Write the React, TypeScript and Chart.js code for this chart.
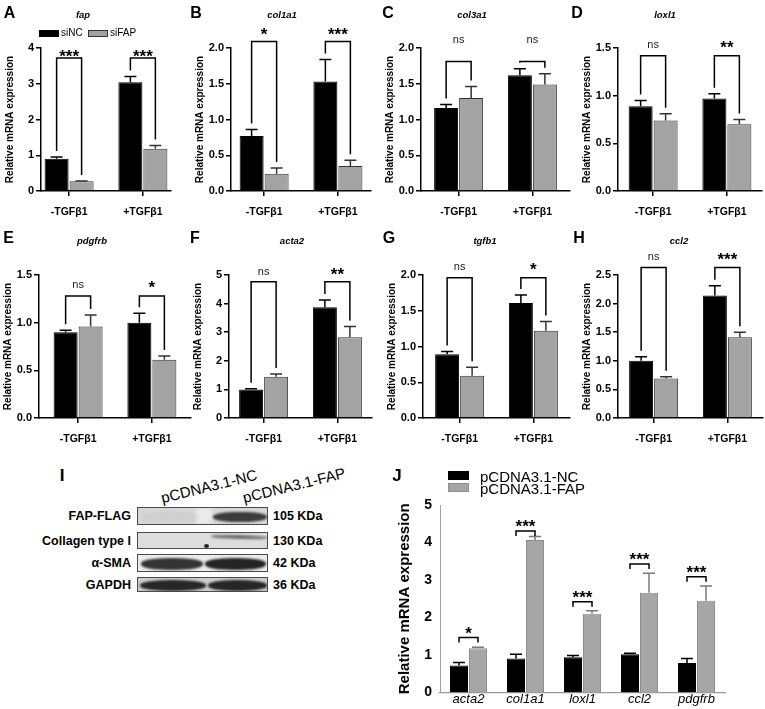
import React, { useEffect, useRef } from 'react';
import { Chart, registerables } from 'chart.js';
Chart.register(...registerables);

const FONT = "'Liberation Sans', Arial, Helvetica, sans-serif";
Chart.defaults.font.family = FONT;
Chart.defaults.color = '#000';

// ---------------- DATA ----------------
const groupLabels = ['-TGFβ1', '+TGFβ1'];
const seriesNames = ['siNC', 'siFAP'];

const fapNC = [0.9, 3.04];
const fapNCErr = [0.95, 3.2];
const fapSi = [0.27, 1.18];
const fapSiErr = [0.28, 1.27];
const fapBracket = [3.72, 3.72];
const fapSig = ['***', '***'];

const col1a1NC = [0.77, 1.53];
const col1a1NCErr = [0.86, 1.84];
const col1a1Si = [0.24, 0.35];
const col1a1SiErr = [0.32, 0.43];
const col1a1Bracket = [2.09, 2.09];
const col1a1Sig = ['*', '***'];

const col3a1NC = [1.16, 1.62];
const col3a1NCErr = [1.21, 1.71];
const col3a1Si = [1.3, 1.49];
const col3a1SiErr = [1.46, 1.64];
const col3a1Bracket = [1.81, 1.81];
const col3a1Sig = ['ns', 'ns'];

const loxl1NC = [0.89, 0.97];
const loxl1NCErr = [0.95, 1.02];
const loxl1Si = [0.74, 0.7];
const loxl1SiErr = [0.81, 0.75];
const loxl1Bracket = [1.42, 1.42];
const loxl1Sig = ['ns', '**'];

const pdgfrbNC = [0.9, 1.0];
const pdgfrbNCErr = [0.92, 1.1];
const pdgfrbSi = [0.96, 0.61];
const pdgfrbSiErr = [1.08, 0.65];
const pdgfrbBracket = [1.28, 1.28];
const pdgfrbSig = ['ns', '*'];

const acta2NC = [1.0, 3.87];
const acta2NCErr = [1.02, 4.13];
const acta2Si = [1.44, 2.82];
const acta2SiErr = [1.54, 3.2];
const acta2Bracket = [4.76, 4.76];
const acta2Sig = ['ns', '**'];

const tgfb1NC = [0.89, 1.61];
const tgfb1NCErr = [0.93, 1.72];
const tgfb1Si = [0.59, 1.22];
const tgfb1SiErr = [0.71, 1.35];
const tgfb1Bracket = [1.96, 1.96];
const tgfb1Sig = ['ns', '*'];

const ccl2NC = [1.0, 2.14];
const ccl2NCErr = [1.07, 2.31];
const ccl2Si = [0.69, 1.41];
const ccl2SiErr = [0.72, 1.5];
const ccl2Bracket = [2.63, 2.63];
const ccl2Sig = ['ns', '***'];

const yMaxes = [4, 2, 2, 1.5, 1.5, 5, 2, 2.5];
const ySteps = [1, 0.5, 0.5, 0.5, 0.5, 1, 0.5, 0.5];

// panel J
const jCats = ['acta2', 'col1a1', 'loxl1', 'ccl2', 'pdgfrb'];
const jSeries = ['pCDNA3.1-NC', 'pCDNA3.1-FAP'];
const jNC = [0.72, 0.91, 0.94, 1.02, 0.79];
const jNCErr = [0.8, 1.02, 0.99, 1.05, 0.91];
const jFAP = [1.18, 4.07, 2.1, 2.66, 2.45];
const jFAPErr = [1.21, 4.16, 2.18, 3.18, 2.84];
const jBracket = [1.47, 4.31, 2.42, 3.43, 3.09];
const jSig = ['*', '***', '***', '***', '***'];
const jYMax = 5;

// panel I (western blot)
const blotRows = ['FAP-FLAG', 'Collagen type I', 'α-SMA', 'GAPDH'];
const blotSizes = ['105 KDa', '130 KDa', '42 KDa', '36 KDa'];
const blotLanes = ['pCDNA3.1-NC', 'pCDNA3.1-FAP'];
const bandNC = [0.03, 0.0, 0.85, 0.9];
const bandFAP = [0.8, 0.55, 0.92, 0.9];

// ---------------- PANEL TABLE ----------------
const smallData = [
  { gene: 'fap', nc: fapNC, ncErr: fapNCErr, si: fapSi, siErr: fapSiErr, br: fapBracket, sig: fapSig },
  { gene: 'col1a1', nc: col1a1NC, ncErr: col1a1NCErr, si: col1a1Si, siErr: col1a1SiErr, br: col1a1Bracket, sig: col1a1Sig },
  { gene: 'col3a1', nc: col3a1NC, ncErr: col3a1NCErr, si: col3a1Si, siErr: col3a1SiErr, br: col3a1Bracket, sig: col3a1Sig },
  { gene: 'loxl1', nc: loxl1NC, ncErr: loxl1NCErr, si: loxl1Si, siErr: loxl1SiErr, br: loxl1Bracket, sig: loxl1Sig },
  { gene: 'pdgfrb', nc: pdgfrbNC, ncErr: pdgfrbNCErr, si: pdgfrbSi, siErr: pdgfrbSiErr, br: pdgfrbBracket, sig: pdgfrbSig },
  { gene: 'acta2', nc: acta2NC, ncErr: acta2NCErr, si: acta2Si, siErr: acta2SiErr, br: acta2Bracket, sig: acta2Sig },
  { gene: 'tgfb1', nc: tgfb1NC, ncErr: tgfb1NCErr, si: tgfb1Si, siErr: tgfb1SiErr, br: tgfb1Bracket, sig: tgfb1Sig },
  { gene: 'ccl2', nc: ccl2NC, ncErr: ccl2NCErr, si: ccl2Si, siErr: ccl2SiErr, br: ccl2Bracket, sig: ccl2Sig },
];

// layout (positions only)
const smallLayout = [
  { axisX: 41, canvasTop: 0, plotTop: 48, plotBottom: 191, offset: 28, lift: 5, letter: 'A', lx: 9.5, ly: 12.5, tx: 83, ty: 15 },
  { axisX: 231, canvasTop: 0, plotTop: 48, plotBottom: 191, offset: 33, lift: 10, letter: 'B', lx: 196, ly: 12.5, tx: 282, ty: 15 },
  { axisX: 421, canvasTop: 0, plotTop: 48, plotBottom: 191, offset: 37.5, lift: 22, letter: 'C', lx: 388, ly: 12.5, tx: 472, ty: 15 },
  { axisX: 618, canvasTop: 0, plotTop: 48, plotBottom: 191, offset: 35, lift: 11, letter: 'D', lx: 577, ly: 12.5, tx: 665, ty: 15 },
  { axisX: 39, canvasTop: 227, plotTop: 275, plotBottom: 418, offset: 39, lift: 11, letter: 'E', lx: 8.5, ly: 238, tx: 92, ty: 241 },
  { axisX: 229, canvasTop: 227, plotTop: 275, plotBottom: 418, offset: 34.5, lift: 10, letter: 'F', lx: 195, ly: 238, tx: 292, ty: 241 },
  { axisX: 423, canvasTop: 227, plotTop: 275, plotBottom: 418, offset: 36.5, lift: 11, letter: 'G', lx: 389, ly: 238, tx: 485, ty: 241 },
  { axisX: 618, canvasTop: 227, plotTop: 275, plotBottom: 418, offset: 35.5, lift: 11, letter: 'H', lx: 579, ly: 238, tx: 679, ty: 241 },
];

const SPACING = 73.5;
const Y_AXIS_W = 40;
const X_AXIS_H = 30;

function drawSigLabel(ctx: CanvasRenderingContext2D, text: string, cx: number, cy: number) {
  const isStar = text.indexOf('*') >= 0;
  ctx.save();
  ctx.fillStyle = isStar ? '#000' : '#222';
  ctx.font = isStar ? `bold 17px ${FONT}` : `11px ${FONT}`;
  ctx.textAlign = 'center';
  ctx.textBaseline = 'alphabetic';
  const m = ctx.measureText(text);
  const asc = m.actualBoundingBoxAscent || 0;
  const desc = m.actualBoundingBoxDescent || 0;
  ctx.fillText(text, cx, cy + (asc - desc) / 2);
  ctx.restore();
}

function annotPlugin(cfg: any) {
  return {
    id: 'annot',
    afterDatasetsDraw(chart: any) {
      const ctx = chart.ctx as CanvasRenderingContext2D;
      const ys = chart.scales.y;
      const tops: any[] = [];
      chart.data.datasets.forEach((ds: any, di: number) => {
        const meta = chart.getDatasetMeta(di);
        tops[di] = meta.data.map((el: any, i: number) => {
          const ey = ys.getPixelForValue(cfg.errs[di][i]);
          ctx.save();
          ctx.strokeStyle = cfg.errColors[di];
          ctx.lineWidth = cfg.errWidth;
          ctx.beginPath();
          ctx.moveTo(el.x, el.y);
          ctx.lineTo(el.x, ey);
          ctx.moveTo(el.x - cfg.capW / 2, ey);
          ctx.lineTo(el.x + cfg.capW / 2, ey);
          ctx.stroke();
          ctx.restore();
          return { x: el.x, ey };
        });
      });
      cfg.bracket.forEach((bv: number, i: number) => {
        const a = tops[0][i];
        const b = tops[1][i];
        const by = ys.getPixelForValue(bv);
        ctx.save();
        ctx.strokeStyle = '#000';
        ctx.lineWidth = 1.5;
        ctx.beginPath();
        if (cfg.style === 'up') {
          ctx.moveTo(a.x, a.ey - 6);
          ctx.lineTo(a.x, by);
          ctx.lineTo(b.x, by);
          ctx.lineTo(b.x, b.ey - 6);
        } else {
          ctx.moveTo(a.x, by + 5);
          ctx.lineTo(a.x, by);
          ctx.lineTo(b.x, by);
          ctx.lineTo(b.x, by + 5);
        }
        ctx.stroke();
        ctx.restore();
        drawSigLabel(ctx, cfg.sig[i], (a.x + b.x) / 2, by - cfg.lift);
      });
    },
  };
}

function makeSmall(canvas: HTMLCanvasElement, idx: number) {
  const d = smallData[idx];
  const L = smallLayout[idx];
  const lo = L.offset / SPACING;
  const plotW = Math.round(SPACING + 2 * L.offset);
  const spacing = plotW / (1 + 2 * lo);
  const catPct = 50 / spacing;
  const yMax = yMaxes[idx];
  const yStep = ySteps[idx];
  const intStep = Number.isInteger(yStep);
  return new Chart(canvas, {
    type: 'bar',
    data: {
      datasets: [
        {
          label: seriesNames[0],
          data: d.nc.map((v, i) => ({ x: i, y: v })),
          backgroundColor: '#000',
          borderColor: '#000',
          borderWidth: 1,
          categoryPercentage: catPct,
          barPercentage: 0.96,
        },
        {
          label: seriesNames[1],
          data: d.si.map((v, i) => ({ x: i, y: v })),
          backgroundColor: '#a3a3a3',
          borderColor: '#333',
          borderWidth: 1,
          categoryPercentage: catPct,
          barPercentage: 0.96,
        },
      ],
    } as any,
    options: {
      responsive: false,
      animation: false,
      events: [],
      layout: { padding: { top: L.plotTop - L.canvasTop, left: 0, right: 2, bottom: 0 } },
      plugins: { legend: { display: false }, tooltip: { enabled: false }, title: { display: false } },
      scales: {
        x: {
          type: 'linear',
          min: -lo,
          max: 1 + lo,
          offset: false,
          afterBuildTicks: (s: any) => {
            s.ticks = [{ value: 0 }, { value: 1 }];
          },
          afterFit: (s: any) => {
            s.height = X_AXIS_H;
          },
          grid: { display: true, drawOnChartArea: false, drawTicks: true, tickLength: 5, color: '#000', lineWidth: 1.5, offset: false },
          border: { display: true, color: '#000', width: 1.5 },
          ticks: {
            callback: (v: any) => groupLabels[Math.round(Number(v))],
            font: { family: FONT, size: 10.5, weight: 'bold' },
            color: '#000',
            padding: 10,
            maxRotation: 0,
            minRotation: 0,
            autoSkip: false,
          },
        },
        y: {
          min: 0,
          max: yMax,
          afterFit: (s: any) => {
            s.width = Y_AXIS_W;
          },
          grid: { display: true, drawOnChartArea: false, drawTicks: true, tickLength: 5, color: '#000', lineWidth: 1.5 },
          border: { display: true, color: '#000', width: 1.5 },
          ticks: {
            stepSize: yStep,
            callback: (v: any) => (intStep ? String(v) : Number(v).toFixed(1)),
            font: { family: FONT, size: 11, weight: 'bold' },
            color: '#000',
            padding: 2,
          },
          title: {
            display: true,
            text: 'Relative mRNA expression',
            font: { family: FONT, size: 10, weight: 'bold' },
            color: '#000',
            padding: { top: 3, bottom: 0 },
          },
        },
      },
    } as any,
    plugins: [
      annotPlugin({
        errs: [d.ncErr, d.siErr],
        errColors: ['#000', '#333'],
        errWidth: 1.5,
        capW: 12,
        bracket: d.br,
        sig: d.sig,
        lift: L.lift,
        style: 'up',
      }),
    ],
  });
}

// J layout
const J = { canvasLeft: 380, canvasTop: 440, axisW: 60, plotTop: 505, plotBottom: 693, plotW: 285, xAxisH: 16 };

function makeJ(canvas: HTMLCanvasElement) {
  return new Chart(canvas, {
    type: 'bar',
    data: {
      labels: jCats,
      datasets: [
        { label: jSeries[0], data: jNC, backgroundColor: '#000', borderColor: '#000', borderWidth: 1, categoryPercentage: 0.667, barPercentage: 0.95 },
        { label: jSeries[1], data: jFAP, backgroundColor: '#a6a6a6', borderColor: '#8c8c8c', borderWidth: 1, categoryPercentage: 0.667, barPercentage: 0.95 },
      ],
    },
    options: {
      responsive: false,
      animation: false,
      events: [],
      layout: { padding: { top: J.plotTop - J.canvasTop, left: 0, right: 5, bottom: 0 } },
      plugins: { legend: { display: false }, tooltip: { enabled: false } },
      scales: {
        x: {
          afterFit: (s: any) => {
            s.height = J.xAxisH;
          },
          grid: { display: false, drawTicks: false, tickLength: 0 },
          border: { display: true, color: '#9a9a9a', width: 1.2 },
          ticks: { font: { family: FONT, size: 13, style: 'italic', lineHeight: 1 }, color: '#000', padding: 0, maxRotation: 0, autoSkip: false },
        },
        y: {
          min: 0,
          max: jYMax,
          afterFit: (s: any) => {
            s.width = J.axisW;
          },
          grid: { display: false, drawTicks: false, tickLength: 0 },
          border: { display: true, color: '#a0a0a0', width: 1 },
          ticks: { stepSize: 1, font: { family: FONT, size: 14, weight: 'bold' }, color: '#000', padding: 8 },
          title: {
            display: true,
            text: 'Relative mRNA expression',
            font: { family: FONT, size: 15, weight: 'bold' },
            color: '#000',
            padding: { top: 16, bottom: 0 },
          },
        },
      },
    } as any,
    plugins: [
      annotPlugin({
        errs: [jNCErr, jFAPErr],
        errColors: ['#000', '#7a7a7a'],
        errWidth: 1.5,
        capW: 12,
        bracket: jBracket,
        sig: jSig,
        lift: 7,
        style: 'down',
      }),
    ],
  });
}

function ChartCanvas({ left, top, width, height, make }: any) {
  const ref = useRef<HTMLCanvasElement>(null);
  useEffect(() => {
    const chart = make(ref.current);
    return () => chart.destroy();
  }, []);
  return (
    <canvas
      ref={ref}
      width={width}
      height={height}
      style={{ position: 'absolute', left, top, width, height }}
    />
  );
}

function Txt({ x, y, children, size, bold, italic, align = 'center', color = '#000', rotate = 0 }: any) {
  const tx = align === 'center' ? '-50%' : align === 'right' ? '-100%' : '0';
  return (
    <div
      style={{
        position: 'absolute',
        left: x,
        top: y,
        transform: `translate(${tx}, -50%) rotate(${rotate}deg)`,
        fontSize: size,
        fontWeight: bold ? 700 : 400,
        fontStyle: italic ? 'italic' : 'normal',
        lineHeight: 1,
        whiteSpace: 'nowrap',
        color,
        fontFamily: FONT,
      }}
    >
      {children}
    </div>
  );
}

// blot layout
const blotX = 137;
const blotW = 131;
const stripTops = [507, 532, 554, 577];
const stripHeights = [18, 17, 18, 15];
const stripBgs = ['#d6d6d6', '#dddddd', '#ececec', '#cdcdcd'];
const bandGeom = [
  { top: 4, h: 10, l1: 3, w1: 60, l2: 75, w2: 54, rot: 0 },
  { top: 2, h: 4, l1: 3, w1: 60, l2: 73, w2: 56, rot: 1.5 },
  { top: 3, h: 12, l1: 3, w1: 62, l2: 67, w2: 61, rot: 0 },
  { top: 2, h: 11, l1: 2, w1: 66, l2: 70, w2: 59, rot: 0 },
];

function Blot() {
  return (
    <>
      <Txt x={62} y={475} size={17} bold>I</Txt>
      <Txt x={209} y={486} size={15} rotate={-14}>{blotLanes[0]}</Txt>
      <Txt x={294} y={485} size={15} rotate={-14}>{blotLanes[1]}</Txt>
      {blotRows.map((r, i) => (
        <React.Fragment key={r}>
          <Txt x={131} y={stripTops[i] + stripHeights[i] / 2} size={12.5} bold align="right">{r}</Txt>
          <Txt x={273} y={stripTops[i] + stripHeights[i] / 2} size={12.5} bold align="left">{blotSizes[i]}</Txt>
          <div
            style={{
              position: 'absolute',
              left: blotX,
              top: stripTops[i],
              width: blotW,
              height: stripHeights[i],
              background: stripBgs[i],
              border: '1.5px solid #4a4a4a',
              boxSizing: 'border-box',
              overflow: 'hidden',
            }}
          >
            {i === 0 && (
              <div style={{ position: 'absolute', left: 58, top: 0, width: 16, height: '100%', background: '#ececec', filter: 'blur(2px)' }} />
            )}
            {[bandNC[i], bandFAP[i]].map((a, k) => (
              <div
                key={k}
                style={{
                  position: 'absolute',
                  left: k === 0 ? bandGeom[i].l1 : bandGeom[i].l2,
                  top: bandGeom[i].top,
                  width: k === 0 ? bandGeom[i].w1 : bandGeom[i].w2,
                  height: bandGeom[i].h,
                  borderRadius: '45%',
                  background: `rgba(20,20,20,${a})`,
                  filter: 'blur(1.3px)',
                  transform: `rotate(${bandGeom[i].rot}deg)`,
                }}
              />
            ))}
            {i === 1 && (
              <div style={{ position: 'absolute', left: 66, top: 11, width: 5, height: 4, borderRadius: '50%', background: '#222' }} />
            )}
          </div>
        </React.Fragment>
      ))}
    </>
  );
}

export default function App() {
  return (
    <div
      style={{
        position: 'absolute',
        left: 0,
        top: 0,
        width: 765,
        height: 709,
        background: '#fff',
        overflow: 'hidden',
        fontFamily: FONT,
      }}
    >
      {smallLayout.map((L, i) => {
        const plotW = Math.round(SPACING + 2 * L.offset);
        const w = Y_AXIS_W + plotW + 2;
        const h = L.plotBottom + X_AXIS_H - L.canvasTop;
        return (
          <ChartCanvas key={i} left={L.axisX - Y_AXIS_W} top={L.canvasTop} width={w} height={h} make={(c: HTMLCanvasElement) => makeSmall(c, i)} />
        );
      })}
      {smallLayout.map((L, i) => (
        <React.Fragment key={'t' + i}>
          <Txt x={L.lx} y={L.ly} size={16} bold>{L.letter}</Txt>
          <Txt x={L.tx} y={L.ty} size={9.5} bold italic>{smallData[i].gene}</Txt>
        </React.Fragment>
      ))}
      {/* legend A */}
      <div style={{ position: 'absolute', left: 39, top: 29.5, width: 20, height: 7, background: '#000' }} />
      <Txt x={61} y={33} size={10} align="left">{seriesNames[0]}</Txt>
      <div style={{ position: 'absolute', left: 88, top: 29.5, width: 20, height: 7, background: '#a3a3a3', border: '1px solid #333', boxSizing: 'border-box' }} />
      <Txt x={110} y={33} size={10} align="left">{seriesNames[1]}</Txt>

      <Blot />

      {/* panel J */}
      <ChartCanvas
        left={J.canvasLeft}
        top={J.canvasTop}
        width={J.axisW + J.plotW + 5}
        height={J.plotBottom + J.xAxisH - J.canvasTop}
        make={makeJ}
      />
      <Txt x={397} y={475} size={17} bold>J</Txt>
      <div style={{ position: 'absolute', left: 448, top: 471, width: 21, height: 9, background: '#000' }} />
      <Txt x={480} y={476} size={15} align="left">{jSeries[0]}</Txt>
      <div style={{ position: 'absolute', left: 448, top: 483, width: 21, height: 9, background: '#a6a6a6', border: '1px solid #8c8c8c', boxSizing: 'border-box' }} />
      <Txt x={480} y={488} size={15} align="left">{jSeries[1]}</Txt>
    </div>
  );
}
